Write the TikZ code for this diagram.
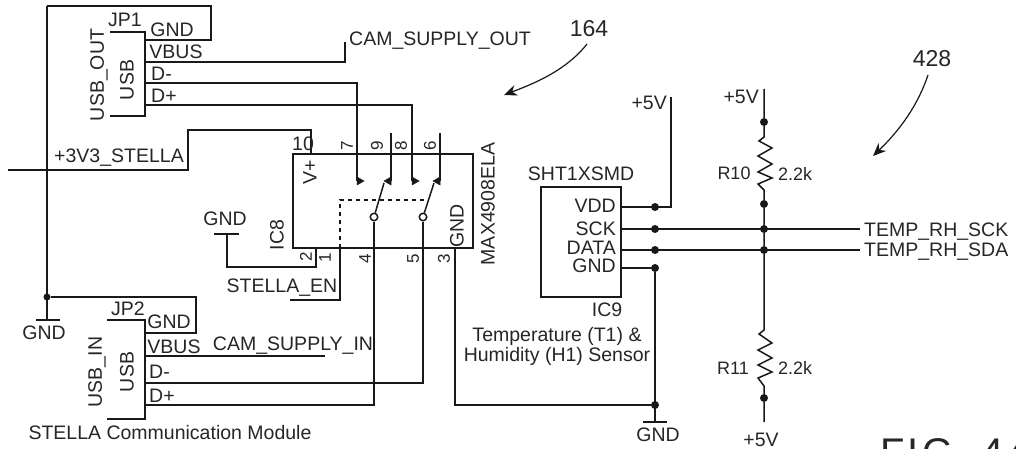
\documentclass[tikz,border=0pt]{standalone}
\usepackage{fontspec}
\setmainfont{Liberation Sans}
\usetikzlibrary{arrows.meta}
\tikzset{
  wire/.style={line width=1.5pt,black!90,line join=miter},
  dashwire/.style={line width=1.5pt,black!90,dash pattern=on 4pt off 4pt},
  lbl/.style={inner sep=0pt,font=\fontsize{19.5}{21}\selectfont,text=black!85},
  pin/.style={inner sep=0pt,font=\fontsize{17}{19}\selectfont,text=black!85,rotate=90},
  lblr/.style={lbl,font=\fontsize{18}{20}\selectfont},
  vlbl/.style={lbl,rotate=90},
  numl/.style={lbl,font=\fontsize{23}{25}\selectfont},
  dot/.style={circle,fill=black!90,inner sep=0pt,minimum size=8pt},
  contact/.style={circle,draw=black!90,fill=white,line width=1.5pt,inner sep=0pt,minimum size=7.5pt},
  tri/.style={fill=black!90,draw=black!90,line width=.5pt},
  callout/.style={line width=1.2pt,black!90,-{Stealth[length=13pt,width=11pt]}}
}
\begin{document}
\begin{tikzpicture}[x=1pt,y=-1pt]
\useasboundingbox (0,0) rectangle (1016,449);
\clip (0,0) rectangle (1016,449);
\fill[white] (0,0) rectangle (1016,449);
% --- named points
\coordinate (railtop) at (47,6);
\coordinate (railj) at (47,170);
\coordinate (railin) at (8,170);
\node[dot,minimum size=7pt] (gndj) at (47,297) {};
\coordinate (gndl) at (47,320);
\coordinate (j1gnd) at (146,40);
\coordinate (j1vbus) at (146,62);
\coordinate (j1dm) at (146,83);
\coordinate (j1dp) at (146,105);
\coordinate (j2gnd) at (146,333);
\coordinate (j2vbus) at (146,356);
\coordinate (j2dm) at (146,383);
\coordinate (j2dp) at (146,405);
\coordinate (p7) at (357,181);
\coordinate (p8) at (412,181);
\coordinate (p9) at (391,181);
\coordinate (p6) at (440,181);
\node[contact] (c4) at (374,217) {};
\node[contact] (c5) at (423,217) {};
\coordinate (p3) at (455,248);
\node[dot] (g9) at (655,405) {};
\coordinate (g9b) at (655,422);
% --- JP1
\draw[wire] (110,32) -- (145,32) -- (145,116) -- (110,116);
\draw[wire] (railtop) -- (211,6) -- (211,40) -- (j1gnd);
\draw[wire] (j1vbus) -- (345,62) -- (345,42);
\draw[wire] (j1dm) -- (357,83) -- (p7);
\draw[wire] (j1dp) -- (412,105) -- (p8);
% --- rail
\draw[wire] (railtop) -- (gndl);
\draw[wire] (36,320) -- (60,320);
\draw[wire] (railin) -- (188,170) -- (188,130) -- (311,130) -- (311,154);
% --- JP2
\draw[wire] (107,320) -- (145,320) -- (145,419) -- (107,419);
\draw[wire] (gndj) -- (196,297) -- (196,333) -- (j2gnd);
\draw[wire] (j2vbus) -- (325,356);
\draw[wire] (j2dm) -- (423,383) -- (c5);
\draw[wire] (j2dp) -- (374,405) -- (c4);
% --- IC8
\draw[wire] (293,154) rectangle (473,248);
\draw[wire] (391,133) -- (p9);
\draw[wire] (440,133) -- (p6);
\draw[wire] (p3) -- (455,405) -- (g9);
\draw[wire] (340,248) -- (340,300) -- (290,300);
\draw[wire] (316,248) -- (316,267) -- (227,267) -- (227,234);
\draw[wire] (214,234) -- (239,234);
\draw[tri] (357,177) -- (364,181) -- (357,185) -- cycle;
\draw[tri] (412,177) -- (419,181) -- (412,185) -- cycle;
\draw[tri] (391,177) -- (384,181) -- (391,185) -- cycle;
\draw[tri] (440,177) -- (433,181) -- (440,185) -- cycle;
\draw[wire] (c4) -- (384,183);
\draw[wire] (c5) -- (434,183);
\draw[dashwire] (340,248) -- (340,200) -- (426,200);
% --- IC9
\draw[wire] (541,187) rectangle (621,297);
\node[dot] (jv) at (655,207) {};
\node[dot] (js) at (655,229) {};
\node[dot] (jd) at (655,250) {};
\node[dot] (jg) at (655,268) {};
\node[dot] (rs) at (764,229) {};
\node[dot] (rd) at (764,250) {};
\node[dot] (r10a) at (764,122) {};
\node[dot] (r10b) at (764,204) {};
\node[dot] (r11b) at (764,398) {};
\coordinate (vdd) at (621,207);
\coordinate (sck) at (621,229);
\coordinate (dat) at (621,250);
\coordinate (gnd) at (621,268);
\coordinate (sckr) at (860,229);
\coordinate (datr) at (860,250);
\draw[wire] (vdd) -- (671,207) -- (671,97);
\draw[wire] (sck) -- (sckr);
\draw[wire] (dat) -- (datr);
\draw[wire] (gnd) -- (jg) -- (g9b);
\draw[wire] (643,422) -- (667,422);
% --- resistors
\draw[wire] (764,89) -- (r10a) -- (764,137) -- (759,141) -- (772,148) -- (758,156) -- (772,164) -- (758,172) -- (772,178) -- (758,184) -- (764,190) -- (r10b) -- (rs);
\draw[wire] (rs) -- (rd) -- (764,330) -- (759,334) -- (772,343) -- (758,350) -- (772,358) -- (758,365) -- (772,372) -- (758,378) -- (764,386) -- (r11b) -- (764,422);
% --- callouts
\coordinate (a164s) at (587,44);
\coordinate (a164e) at (504,95);
\draw[callout] (a164s) .. controls (565,72) and (530,85) .. (a164e);
\coordinate (a428s) at (928,75);
\coordinate (a428e) at (873,156);
\draw[callout] (a428s) .. controls (918,105) and (900,130) .. (a428e);
% --- labels
\node[lbl] (tjp1) at (125,20) {JP1};
\node[lbl] (tg1) at (172,30) {GND};
\node[lbl] (tv1) at (176,52) {VBUS};
\node[lbl,anchor=west] (tdm1) at (151,74) {D-};
\node[lbl,anchor=west] (tdp1) at (151,96) {D+};
\node[vlbl] (tuo) at (99,75) {USB\_OUT};
\node[vlbl] (tu1) at (127,80) {USB};
\node[lbl,anchor=west] (tcamo) at (349,41) {CAM\_SUPPLY\_OUT};
\node[numl] (t164) at (589,29) {164};
\node[numl] (t428) at (932,59) {428};
\node[lbl] (t3v3) at (119,158) {+3V3\_STELLA};
\node[lbl] (tgc) at (225,219) {GND};
\node[lbl] (ten) at (282,288) {STELLA\_EN};
\node[lbl] (t10) at (303,144) {10};
\node[vlbl] (tvp) at (310,172) {V+};
\node[pin] (t7) at (347,146) {7};
\node[pin] (t9) at (377,146) {9};
\node[pin] (t8) at (401,146) {8};
\node[pin] (t6) at (430,146) {6};
\node[pin] (t2) at (306,257) {2};
\node[pin] (t1) at (325,258) {1};
\node[pin] (t4) at (365,259) {4};
\node[pin] (t5) at (413,259) {5};
\node[pin] (t3) at (444,259) {3};
\node[vlbl] (tgi) at (457,226) {GND};
\node[vlbl] (tmax) at (488,204) {MAX4908ELA};
\node[vlbl] (tic8) at (277,235) {IC8};
\node[lbl] (tggl) at (44,333) {GND};
\node[lbl] (tjp2) at (128,309) {JP2};
\node[lbl] (tg2) at (169,322) {GND};
\node[lbl] (tv2) at (174,347) {VBUS};
\node[lbl,anchor=west] (tdm2) at (149,372) {D-};
\node[lbl,anchor=west] (tdp2) at (149,396) {D+};
\node[vlbl] (tui) at (97,372) {USB\_IN};
\node[vlbl] (tu2) at (127,372) {USB};
\node[lbl] (tcami) at (293,346) {CAM\_SUPPLY\_IN};
\node[lbl] (tstm) at (170,433) {STELLA Communication Module};
\node[lbl] (tsht) at (581,174) {SHT1XSMD};
\node[lbl,anchor=east] (tvdd) at (616,206) {VDD};
\node[lbl,anchor=east] (tsck) at (616,229) {SCK};
\node[lbl,anchor=east] (tdat) at (616,248) {DATA};
\node[lbl,anchor=east] (tgnd) at (616,266) {GND};
\node[lbl] (tic9) at (607,310) {IC9};
\node[lbl] (tsen1) at (557,336) {Temperature (T1) \&};
\node[lbl] (tsen2) at (557,356) {Humidity (H1) Sensor};
\node[lbl] (tg9) at (658,435) {GND};
\node[lbl,anchor=east] (tv5a) at (667,103) {+5V};
\node[lbl,anchor=east] (tv5b) at (759,97) {+5V};
\node[lblr] (tr10) at (734,173) {R10};
\node[lblr] (tk10) at (795,174) {2.2k};
\node[lblr] (tr11) at (733,368) {R11};
\node[lblr] (tk11) at (795,368) {2.2k};
\node[lbl] (tv5c) at (761,440) {+5V};
\node[lbl,anchor=west] (tsck2) at (864,232) {TEMP\_RH\_SCK};
\node[lbl,anchor=west] (tsda2) at (864,252) {TEMP\_RH\_SDA};
\node[lbl,anchor=base west,font=\fontsize{40}{44}\selectfont\addfontfeature{LetterSpace=8}] (tfig) at (880,466) {FIG.\ 44};
\end{tikzpicture}
\end{document}
